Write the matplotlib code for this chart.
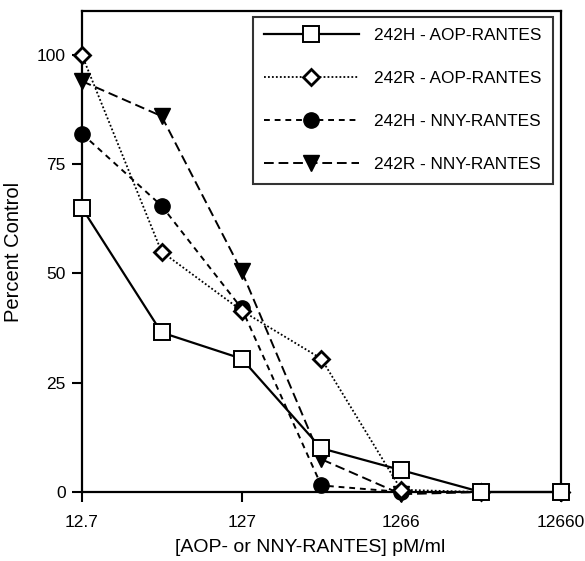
import matplotlib
matplotlib.use("Agg")
import matplotlib.pyplot as plt

plt.rcParams['font.family'] = ['Liberation Sans', 'DejaVu Sans']

conc = [12.7, 40, 127, 400, 1266, 4000, 12660]
tick_vals = [12.7, 127, 1266, 12660]
tick_labels = ["12.7", "127", "1266", "12660"]

h_aop = [65, 36.5, 30.5, 10, 5, 0, 0]
r_aop = [100, 55, 41.5, 30.5, 0.5, 0, 0]
h_nny = [82, 65.5, 42, 1.5, 0, 0, 0]
r_nny = [94, 86, 50.5, 7.5, -0.5, 0, 0]

labels = ["242H - AOP-RANTES", "242R - AOP-RANTES", "242H - NNY-RANTES", "242R - NNY-RANTES"]

fig = plt.figure(figsize=(5.85, 5.61), dpi=100)
ax = fig.add_axes([0.140, 0.123, 0.819, 0.857])

ax.plot(conc, h_aop, color='black', lw=1.6, ls='-', marker='s', ms=11,
        mfc='white', mec='black', mew=1.4, label=labels[0], clip_on=False, zorder=5)
ax.plot(conc, r_aop, color='black', lw=1.3, ls=(0, (1, 1.2)), marker='D', ms=8,
        mfc='white', mec='black', mew=2, label=labels[1], clip_on=False, zorder=4)
ax.plot(conc, h_nny, color='black', lw=1.4, ls=(0, (3, 2.5)), marker='o', ms=11,
        mfc='black', mec='black', label=labels[2], clip_on=False, zorder=3)
ax.plot(conc, r_nny, color='black', lw=1.4, ls=(0, (5, 2.5)), marker='v', ms=11,
        mfc='black', mec='black', label=labels[3], clip_on=False, zorder=3)

ax.set_xscale('log')
ax.set_xlim(12.7, 12660)
ax.set_ylim(0, 110)
ax.set_xticks(tick_vals)
ax.set_xticklabels(tick_labels)
ax.minorticks_off()
ax.set_yticks([0, 25, 50, 75, 100])
ax.tick_params(direction='out', length=7.5, width=1.5, labelsize=12.5)
ax.tick_params(axis='x', pad=9)
ax.tick_params(axis='y', pad=4)

for s in ax.spines.values():
    s.set_linewidth(1.6)

ax.set_ylabel("Percent Control", fontsize=14.5)
ax.yaxis.set_label_coords(-0.122, 0.5)
ax.set_xlabel("[AOP- or NNY-RANTES] pM/ml", fontsize=14)
ax.xaxis.set_label_coords(0.476, -0.097)

leg = ax.legend(loc='upper right', bbox_to_anchor=(0.983, 0.9875), frameon=True,
                fancybox=False, edgecolor='black', fontsize=12.4, handlelength=5.5,
                labelspacing=1.62, borderpad=0.65, handletextpad=0.9, borderaxespad=0.0)
leg.get_frame().set_linewidth(1.5)

fig.savefig("out.png", dpi=100)
